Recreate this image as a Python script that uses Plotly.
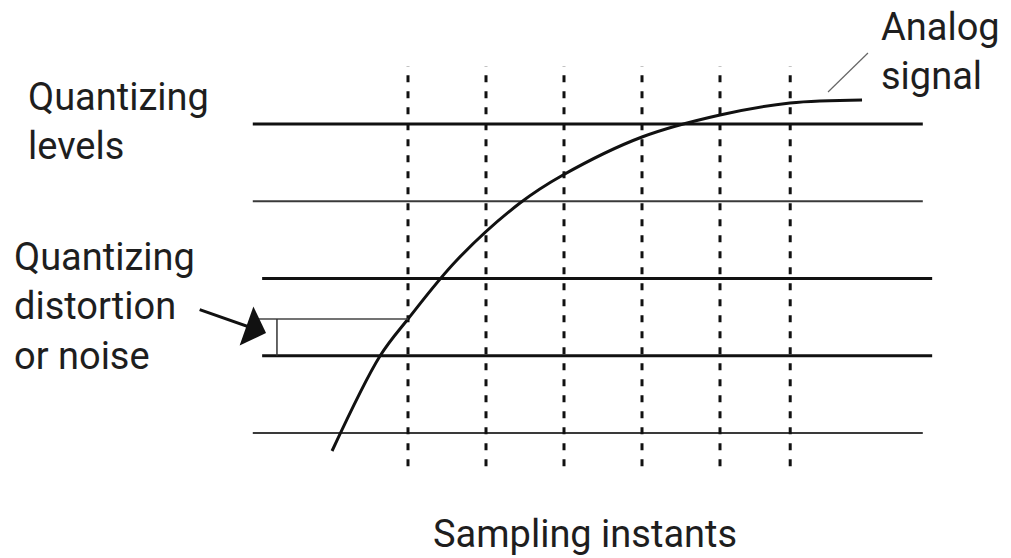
import numpy as np
import plotly.graph_objects as go

# ---------------- data (diagram units: t = sampling index, v = quantizing level) -------------
quant_levels = [0, 1, 2, 3, 4]
sampling_instants = [1, 2, 3, 4, 5, 5.9]
signal_t = [0.026, 0.641, 1.0, 1.628, 2.436, 2.987, 4.0, 5.0, 5.897, 6.821]
signal_v = [-0.233, 0.997, 1.476, 2.24, 2.977, 3.34, 3.832, 4.117, 4.272, 4.311]

# ---------------- layout / style ----------------
W, H = 1011, 558
X_RANGE = [-4.2308, 8.7308]
Y_RANGE = [-1.6181, 5.6052]

level_x0 = [-0.99, -0.87, -0.87, -0.99, -0.99]
level_x1 = [7.60, 7.72, 7.72, 7.60, 7.60]
level_w = [2, 3, 3, 2, 3]
level_c = ["#3a3a3a", "#111111", "#111111", "#3a3a3a", "#111111"]
inst_y0, inst_y1 = -0.43, 4.75

FONT = "Roboto, 'Liberation Sans', Arial, sans-serif"
FS = 38
TXT = "#1e1e1e"


def px_x(px):
    return X_RANGE[0] + px / 78


def px_y(py):
    return (433 - py) / 77.25


fig = go.Figure()

# quantizing levels
for lv, x0, x1, w, c in zip(quant_levels, level_x0, level_x1, level_w, level_c):
    fig.add_trace(go.Scatter(x=[x0, x1], y=[lv, lv], mode="lines",
                             line=dict(color=c, width=w), hoverinfo="skip", showlegend=False))

# sampling instants (dashed)
for t in sampling_instants:
    fig.add_trace(go.Scatter(x=[t, t], y=[inst_y0, inst_y1], mode="lines",
                             line=dict(color="#111111", width=3, dash="7px,9px"),
                             hoverinfo="skip", showlegend=False))

# analog signal
fig.add_trace(go.Scatter(x=signal_t, y=signal_v, mode="lines",
                         line=dict(color="#111111", width=3, shape="spline", smoothing=1.0),
                         hoverinfo="skip", showlegend=False))

# quantizing error bracket at first sampling instant
s0 = sampling_instants[0]
val0 = float(np.interp(s0, signal_t, signal_v))
q0 = float(np.floor(val0))
br_x0, br_xv = -0.96, -0.68
fig.add_trace(go.Scatter(x=[br_x0, s0], y=[val0, val0], mode="lines",
                         line=dict(color="#444444", width=1.5), hoverinfo="skip", showlegend=False))
fig.add_trace(go.Scatter(x=[br_xv, br_xv], y=[q0, val0], mode="lines",
                         line=dict(color="#333333", width=1.5), hoverinfo="skip", showlegend=False))

# leader line for "Analog signal"
fig.add_trace(go.Scatter(x=[6.385, 6.897], y=[4.414, 4.919], mode="lines",
                         line=dict(color="#666666", width=1.2), hoverinfo="skip", showlegend=False))

annotations = [
    dict(x=-0.82, y=1.295, ax=-1.69, ay=1.605, xref="x", yref="y", axref="x", ayref="y",
         text="", showarrow=True, arrowhead=1, arrowsize=2.3, arrowwidth=3, arrowcolor="#111111",
         standoff=0, startstandoff=0),
    dict(x=px_x(26), y=px_y(121), xref="x", yref="y", xanchor="left", yanchor="middle",
         align="left", showarrow=False, text="Quantizing<br>levels",
         font=dict(family=FONT, size=FS, color=TXT)),
    dict(x=px_x(12), y=px_y(306), xref="x", yref="y", xanchor="left", yanchor="middle",
         align="left", showarrow=False, text="Quantizing<br>distortion<br>or noise",
         font=dict(family=FONT, size=FS, color=TXT)),
    dict(x=px_x(879), y=px_y(51), xref="x", yref="y", xanchor="left", yanchor="middle",
         align="left", showarrow=False, text="Analog<br>signal",
         font=dict(family=FONT, size=FS, color=TXT)),
    dict(x=px_x(585), y=px_y(534), xref="x", yref="y", xanchor="center", yanchor="middle",
         showarrow=False, text="Sampling instants",
         font=dict(family=FONT, size=FS, color=TXT)),
]

fig.update_layout(
    width=W, height=H, margin=dict(l=0, r=0, t=0, b=0),
    paper_bgcolor="white", plot_bgcolor="white",
    xaxis=dict(range=X_RANGE, visible=False, fixedrange=True),
    yaxis=dict(range=Y_RANGE, visible=False, fixedrange=True),
    annotations=annotations, showlegend=False,
)

fig.write_html("out.html", config={"displayModeBar": False},
               post_script="document.body.style.margin='0px';document.body.style.overflow='hidden';")
